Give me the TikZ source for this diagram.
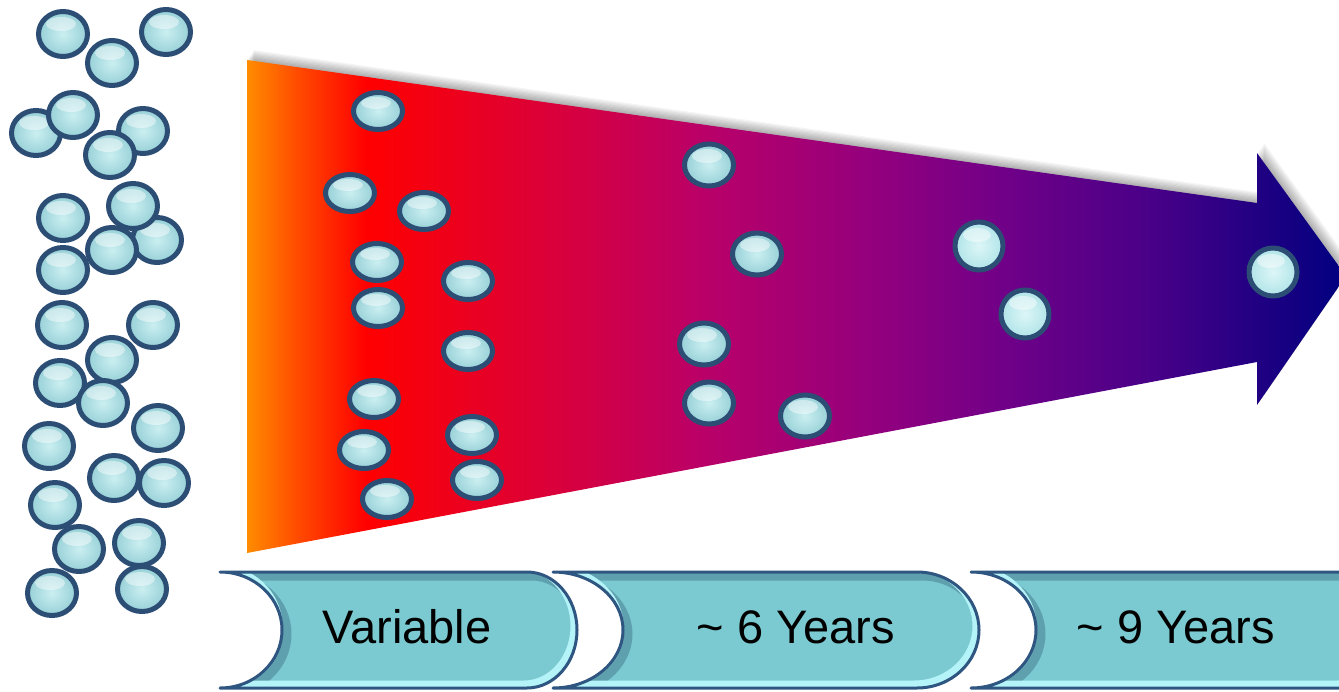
\documentclass[tikz,border=0pt]{standalone}
\usepackage{fontspec}
\setmainfont{Liberation Sans}
\usetikzlibrary{shapes.geometric,calc}
\definecolor{rim}{HTML}{2C4D74}
\definecolor{bubin}{HTML}{CBEFF1}
\definecolor{bubout}{HTML}{96D0D7}
\definecolor{bubinL}{HTML}{DDF6F7}
\definecolor{buboutL}{HTML}{B0E4E8}
\definecolor{chevfill}{HTML}{7BCAD1}
\definecolor{chevrim}{HTML}{2F5581}
\definecolor{chevlight}{HTML}{B4F3F8}
\definecolor{chevdark}{HTML}{3E6E86}
\definecolor{ag0}{RGB}{255,140,0}
\definecolor{ag1}{RGB}{255,72,0}
\definecolor{ag2}{RGB}{255,0,0}
\definecolor{ag3}{RGB}{220,0,55}
\definecolor{ag4}{RGB}{186,0,104}
\definecolor{ag5}{RGB}{150,0,124}
\definecolor{ag6}{RGB}{112,0,136}
\definecolor{ag7}{RGB}{72,0,136}
\definecolor{ag8}{RGB}{30,0,130}
\definecolor{ag9}{RGB}{0,0,128}
\pgfdeclarehorizontalshading{arrowgrad}{100bp}{color(0bp)=(ag0); color(25bp)=(ag0); color(27.4bp)=(ag1); color(30.4bp)=(ag2); color(38.4bp)=(ag3); color(45.7bp)=(ag4); color(53bp)=(ag5); color(59.5bp)=(ag6); color(66.3bp)=(ag7); color(71.3bp)=(ag8); color(75bp)=(ag9); color(100bp)=(ag9)}
\newcommand\arrowpath{(247,60) -- (1257,203) -- (1257,153) -- (1346,276) -- (1257,405) -- (1257,362) -- (247,553) -- cycle}
\newcommand\chevpath[4]{(#1,572) -- ({#2-#3},572) arc[start angle=-90, end angle=90, x radius=#3, y radius=58] -- (#1,688) arc[start angle=90, end angle=-90, x radius=#4, y radius=58] -- cycle}
\newcommand\chevron[4]{%
  \fill[chevfill] \chevpath{#1}{#2}{#3}{#4};
  \begin{scope}
    \clip \chevpath{#1}{#2}{#3}{#4};
    \draw[chevdark, opacity=.45, line width=9pt, shift={(5,4)}] \chevpath{#1}{#2}{#3}{#4};
    \draw[chevlight, line width=7pt, shift={(-3,-4)}] \chevpath{#1}{#2}{#3}{#4};
  \end{scope}
  \draw[chevrim, line width=3pt, line join=round] \chevpath{#1}{#2}{#3}{#4};
}
\begin{document}
\begin{tikzpicture}[x=1pt,y=-1pt,
  bubbase/.style={ellipse, draw=rim, line width=5pt, inner sep=0pt, inner color=bubin, outer color=bubout},
  lb/.style={bubbase, minimum width=49pt, minimum height=45pt,
    path picture={\fill[white,opacity=.45] ($(path picture bounding box.center)+(-2,-10)$) ellipse[x radius=15, y radius=7];}},
  ab/.style={bubbase, minimum width=49pt, minimum height=37pt,
    path picture={\fill[white,opacity=.45] ($(path picture bounding box.center)+(-2,-8)$) ellipse[x radius=15, y radius=6];}},
  mb/.style={bubbase, minimum width=49pt, minimum height=42pt,
    path picture={\fill[white,opacity=.45] ($(path picture bounding box.center)+(-2,-9)$) ellipse[x radius=15, y radius=7];}},
  cb/.style={bubbase, inner color=bubinL, outer color=buboutL, minimum width=48pt, minimum height=48pt,
    path picture={\fill[white,opacity=.45] ($(path picture bounding box.center)+(-2,-11)$) ellipse[x radius=14, y radius=7];}},
  lbl/.style={font=\fontsize{47}{51}\selectfont, text=black, anchor=base, inner sep=0pt}
]
\useasboundingbox (0,0) rectangle (1339,691);

% arrow shadow and body
\foreach \d in {1,...,9} {
  \fill[black, opacity=.04, shift={(\d*0.8,-\d*1.1)}] \arrowpath;
}
\shade[shading=arrowgrad] \arrowpath;

% bubbles in the arrow
\node[ab] (a1) at (378,111) {};
\node[ab] (a2) at (350,193) {};
\node[ab] (a3) at (424,211) {};
\node[ab] (a4) at (377,262) {};
\node[ab] (a5) at (468,281) {};
\node[ab] (a6) at (378,308) {};
\node[ab] (a7) at (468,351) {};
\node[ab] (a8) at (374,399) {};
\node[ab] (a9) at (364,450) {};
\node[ab] (a10) at (472,435) {};
\node[ab] (a11) at (387,499) {};
\node[ab] (a12) at (477,480) {};

\node[mb] (m1) at (709,165) {};
\node[mb] (m2) at (757,254) {};
\node[mb] (m3) at (704,344) {};
\node[mb] (m4) at (709,403) {};
\node[mb] (m5) at (805,416) {};

\node[cb] (c1) at (979,246) {};
\node[cb] (c2) at (1025,314) {};
\node[cb] (c3) at (1273,272) {};

% loose bubbles on the left
\node[lb] (l1) at (166,32) {};
\node[lb] (l2) at (63,34) {};
\node[lb] (l3) at (112,63) {};
\node[lb] (l4) at (36,133) {};
\node[lb] (l5) at (73,115) {};
\node[lb] (l6) at (143,131) {};
\node[lb] (l7) at (110,155) {};
\node[lb] (l8) at (157,240) {};
\node[lb] (l9) at (63,218) {};
\node[lb] (l10) at (133,206) {};
\node[lb] (l11) at (112,250) {};
\node[lb] (l12) at (63,270) {};
\node[lb] (l13) at (62,325) {};
\node[lb] (l14) at (153,325) {};
\node[lb] (l15) at (112,360) {};
\node[lb] (l16) at (60,383) {};
\node[lb] (l17) at (103,403) {};
\node[lb] (l18) at (158,428) {};
\node[lb] (l19) at (49,446) {};
\node[lb] (l20) at (114,478) {};
\node[lb] (l21) at (164,483) {};
\node[lb] (l22) at (55,505) {};
\node[lb] (l23) at (139,543) {};
\node[lb] (l24) at (79,549) {};
\node[lb] (l25) at (52,593) {};
\node[lb] (l26) at (142,589) {};

% timeline chevrons
\chevron{220}{577}{50}{62}
\chevron{553}{979}{62}{70}
\chevron{971}{1400}{60}{65}

\node[lbl] (t1) at (407,643) {Variable};
\node[lbl] (t2) at (796,643) {\char"007E{} 6 Years};
\node[lbl] (t3) at (1176,643) {\char"007E{} 9 Years};
\end{tikzpicture}
\end{document}
